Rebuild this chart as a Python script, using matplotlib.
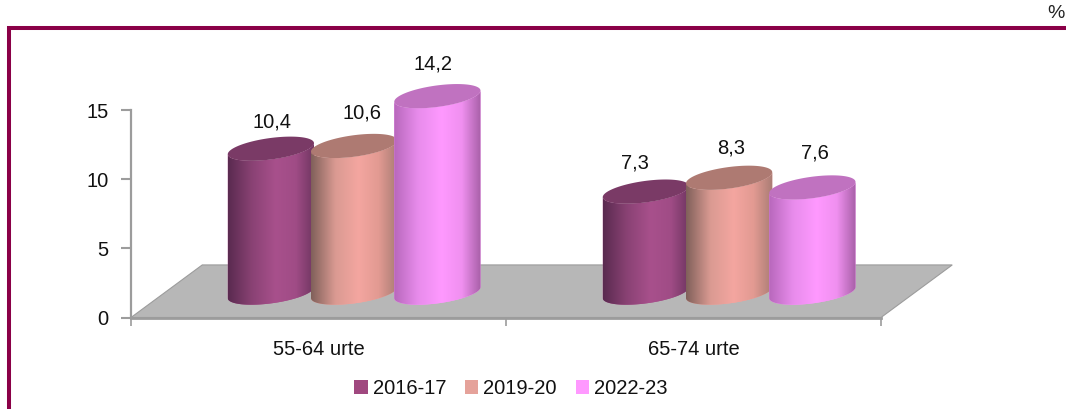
"""Cylinder-style grouped bars: two age groups over three survey periods."""

import numpy as np
import matplotlib
matplotlib.use("Agg")
import matplotlib.pyplot as plt
from matplotlib.lines import Line2D
from matplotlib.patches import Patch, PathPatch, Polygon
from matplotlib.path import Path
from matplotlib.colors import LinearSegmentedColormap

plt.rcParams["font.family"] = ["Liberation Sans", "DejaVu Sans"]

# ── data ─────────────────────────────────────────────────────────────────────
CATEGORIES = ["55-64 urte", "65-74 urte"]
PERIODS = ["2016-17", "2019-20", "2022-23"]
VALUES_2016 = [10.4, 7.3]
VALUES_2019 = [10.6, 8.3]
VALUES_2022 = [14.2, 7.6]
VALUE_LABELS = [["10,4", "7,3"], ["10,6", "8,3"], ["14,2", "7,6"]]
Y_TICKS = [0, 5, 10, 15]

# ── style ────────────────────────────────────────────────────────────────────
W, H = 1066, 409
DARK_RED = "#8A0047"
AXIS_GRAY = "#9C9C9C"
FLOOR = "#B7B7B7"
TEXT = "#111111"
FONT_SIZE = 14.5
LEGEND_COLORS = ["#A0487F", "#E5A29A", "#FF99FF"]
TOP_COLORS = ["#7A3A66", "#AE7A72", "#C072C0"]
SHADES = [
    ["#5A2A50", "#8A4274", "#A8508C", "#A04C86", "#6E3560"],
    ["#80605A", "#DA9A92", "#F4A6A0", "#E29A92", "#A87C74"],
    ["#B868BC", "#E88CEC", "#FF99FF", "#F090F0", "#A860A8"],
]
SHADE_POS = [0.0, 0.28, 0.55, 0.78, 1.0]

Y_MAX = 22        # room above the 15 tick for the tall cylinder and its label
PX_PER_UNIT = 207.5 / 15
BAR_W = 0.230     # cylinder width, in category units
STEP = 0.222      # spacing of the cylinders inside a group
DEPTH_X = 0.095   # floor mid-depth shift, category units
DEPTH_Y = 1.80    # floor mid-depth shift, value units
ELL_B = 0.78      # ellipse half height, value units
ELL_S = 0.40      # ellipse tilt, value units

# nudges of the value labels, pixels from the cylinder top
LABEL_NUDGE = [[(1, 27), (-11, 29)], [(8, 33), (2, 30)], [(-4, 32), (3, 34)]]


def cylinder_path(cx, y0, y1):
    """Outline of the body: front of the base ellipse, up, back along the top."""
    t = np.linspace(np.pi, 2 * np.pi, 60)
    a = BAR_W / 2
    low = np.c_[cx + a * np.cos(t), y0 - ELL_B * np.abs(np.sin(t)) + ELL_S * np.cos(t)]
    high = np.c_[cx + a * np.cos(t[::-1]), y1 - ELL_B * np.abs(np.sin(t[::-1])) + ELL_S * np.cos(t[::-1])]
    return Path(np.vstack([low, high, low[:1]]), closed=True)


def draw_cylinder(ax, cx, value, series, zorder):
    y0, y1 = DEPTH_Y, DEPTH_Y + value
    a = BAR_W / 2
    cmap = LinearSegmentedColormap.from_list("shade", list(zip(SHADE_POS, SHADES[series])))
    body = PathPatch(cylinder_path(cx, y0, y1), fc=SHADES[series][2], ec="none", zorder=zorder)
    ax.add_patch(body)
    img = ax.imshow(np.linspace(0, 1, 256)[None, :], cmap=cmap, aspect="auto",
                    extent=[cx - a, cx + a, y0 - 2, y1 + 2], zorder=zorder + 0.1,
                    interpolation="bilinear")
    img.set_clip_path(body)

    t = np.linspace(0, 2 * np.pi, 120)
    top = np.c_[cx + a * np.cos(t), y1 + ELL_B * np.sin(t) + ELL_S * np.cos(t)]
    ax.add_patch(Polygon(top, closed=True, fc=TOP_COLORS[series], ec="none", zorder=zorder + 0.2))


fig = plt.figure(figsize=(W / 100, H / 100), dpi=100)
ax = fig.add_axes([131 / W, (H - 317.5) / H, 750 / W, Y_MAX * PX_PER_UNIT / H])
ax.set_autoscale_on(False)
ax.set_xlim(-0.5, 1.5)
ax.set_ylim(0, Y_MAX)
ax.patch.set_visible(False)

for side in ("top", "right", "bottom"):
    ax.spines[side].set_visible(False)
ax.spines["left"].set_color(AXIS_GRAY)
ax.spines["left"].set_linewidth(1.6)
ax.spines["left"].set_bounds(0, 15)
ax.spines["left"].set_zorder(1)

# floor of the chart
floor_pts = [(-0.5, 0), (1.5, 0),
             (1.5 + 2 * DEPTH_X, 2 * DEPTH_Y + 0.2), (-0.5 + 2 * DEPTH_X, 2 * DEPTH_Y + 0.2)]
ax.add_patch(Polygon(floor_pts, closed=True, fc=FLOOR, ec=AXIS_GRAY, lw=0.8,
                     zorder=2, clip_on=False))
ax.plot([-0.5, 1.5], [0, 0], color=AXIS_GRAY, lw=2, zorder=3, clip_on=False)

# cylinders
all_values = [VALUES_2016, VALUES_2019, VALUES_2022]
for s, values in enumerate(all_values):
    for c, value in enumerate(values):
        cx = c + (s - 1) * STEP + DEPTH_X
        draw_cylinder(ax, cx, value, s, zorder=5 + s)
        dx, dy = LABEL_NUDGE[s][c]
        ax.annotate(VALUE_LABELS[s][c], (cx, DEPTH_Y + value), xytext=(dx, dy),
                    textcoords="offset pixels", ha="center", va="center",
                    fontsize=FONT_SIZE, color=TEXT, zorder=20)

# axes ticks
ax.set_yticks(Y_TICKS)
ax.tick_params(axis="y", length=7, width=1.5, color=AXIS_GRAY, labelsize=FONT_SIZE,
               labelcolor=TEXT, pad=9)
ax.set_xticks([-0.5, 0.5, 1.5], labels=[])
ax.set_xticks([0, 1], labels=CATEGORIES, minor=True)
ax.tick_params(axis="x", which="major", length=6, width=1.2, color=AXIS_GRAY)
ax.tick_params(axis="x", which="minor", length=0, labelsize=FONT_SIZE, labelcolor=TEXT, pad=16.5)

handles = [Patch(fc=col, ec="none", label=lab) for col, lab in zip(LEGEND_COLORS, PERIODS)]
fig.legend(handles=handles, loc="center", bbox_to_anchor=(511 / W, (H - 388.5) / H), ncol=3,
           frameon=False, fontsize=FONT_SIZE, handlelength=0.65, handleheight=0.65,
           handletextpad=0.25, columnspacing=0.95, labelcolor=TEXT)

# frame on the top and left of the chart, unit mark above it
fig.add_artist(Line2D([9 / W, 9 / W, 1], [0, (H - 28) / H, (H - 28) / H],
                      color=DARK_RED, lw=2.9, solid_joinstyle="miter"))
fig.text(1056 / W, (H - 13) / H, "%", ha="center", va="center", fontsize=14, color="#222222")

fig.savefig("out.png", dpi=100)
